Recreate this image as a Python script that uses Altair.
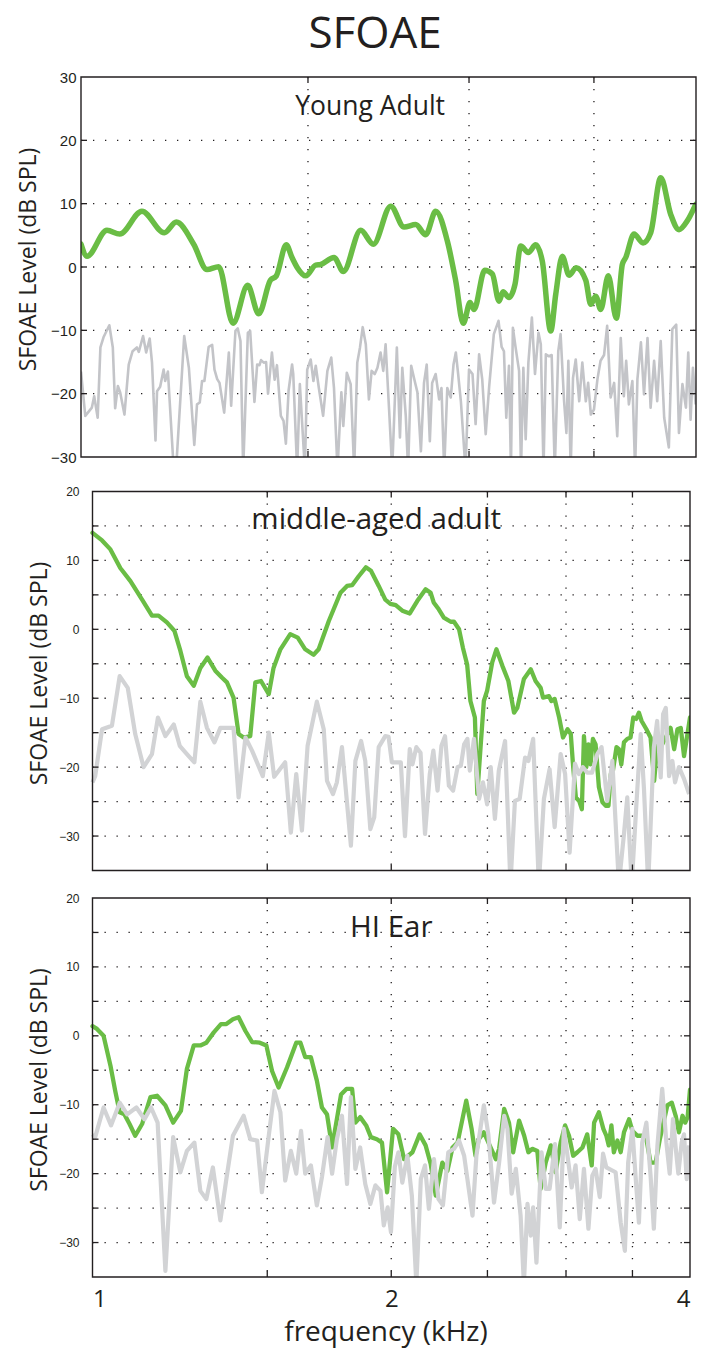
import altair as alt
import numpy as np
import pandas as pd

INK = "#231f20"
GREEN = "#6abd45"
NOISE_DARK = "#c3c4c8"
NOISE_LIGHT = "#d2d3d5"
TEXT_FONT = "Open Sans"
NUM_FONT = "Liberation Sans"

# Each series is a list of (frequency in octaves above 1 kHz, level in dB SPL).
young_sfoae = [
    (0.000, 3.6), (0.0155, 1.7), (0.067, 5.8), (0.0997, 5.2), (0.157, 8.8), (0.2147, 5.4),
    (0.2457, 7.1), (0.2904, 3.6), (0.3247, -0.4), (0.3548, 0.05), (0.3918, -8.9), (0.4296, -2.9),
    (0.458, -7.4), (0.488, -2.1), (0.5034, -1.4), (0.529, 3.5), (0.5438, 1.5), (0.5575, -0.1),
    (0.5791, -1.4), (0.6049, 0.3), (0.6178, 0.4), (0.6521, 1.5), (0.676, -0.7), (0.7209, 5.8),
    (0.7534, 3.6), (0.7982, 9.6), (0.8325, 6.3), (0.8626, 6.7), (0.8884, 5.1), (0.9142, 8.8),
    (0.9441, 4.1), (0.9657, -2.2), (0.9853, -8.9), (1.0026, -5.6), (1.0129, -6.7), (1.0405, -0.5),
    (1.0601, -1.1), (1.0773, -5.4), (1.0876, -3.9), (1.1031, -4.8), (1.1186, -2.7), (1.1332, 3.3),
    (1.1528, 2.3), (1.1719, 3.5), (1.1889, 0.9), (1.2106, -10.1), (1.2235, -4.3), (1.2405, 1.7),
    (1.2577, -1.3), (1.2765, -0.1), (1.3008, -2.1), (1.3137, -5.9), (1.3265, -4.6), (1.3394, -6.7),
    (1.359, -1.4), (1.3796, -8.1), (1.3951, 0.4), (1.4039, 1.5), (1.4253, 5.2), (1.4485, 3.8),
    (1.4683, 5.4), (1.4941, 14.1), (1.5198, 8.3), (1.5412, 5.9), (1.5626, 7.3), (1.5843, 9.9),
]

young_noise = [
    (0.000, -16.5), (0.011, -23.5), (0.028, -22.2), (0.034, -20.4), (0.043, -23.8), (0.050, -12.7),
    (0.058, -11.1), (0.073, -9.2), (0.082, -12.7), (0.088, -22.3), (0.095, -18.8), (0.101, -19.8),
    (0.112, -23.3), (0.123, -15.4), (0.133, -13.3), (0.144, -12.7), (0.149, -13.4), (0.160, -10.9),
    (0.168, -13.5), (0.177, -11.3), (0.183, -15.1), (0.192, -27.4), (0.196, -19.6), (0.204, -18.9),
    (0.213, -16.2), (0.217, -18.0), (0.224, -16.5), (0.239, -32.0), (0.245, -32.0), (0.266, -10.9),
    (0.278, -15.9), (0.292, -28.1), (0.299, -21.7), (0.306, -21.4), (0.312, -18.0), (0.318, -18.0),
    (0.329, -12.6), (0.338, -12.3), (0.344, -16.2), (0.351, -17.7), (0.357, -18.3), (0.369, -23.0),
    (0.381, -13.5), (0.387, -21.9), (0.398, -10.1), (0.404, -9.7), (0.411, -11.7), (0.418, -32.0),
    (0.430, -10.4), (0.436, -10.1), (0.447, -21.3), (0.454, -15.4), (0.460, -15.5), (0.464, -14.7),
    (0.471, -15.1), (0.477, -15.0), (0.482, -20.0), (0.492, -13.5), (0.499, -17.8), (0.505, -15.5),
    (0.515, -23.5), (0.522, -24.3), (0.528, -27.9), (0.535, -19.5), (0.544, -15.4), (0.547, -16.9),
    (0.557, -32.0), (0.564, -18.5), (0.577, -32.0), (0.583, -16.2), (0.592, -14.6), (0.599, -18.0),
    (0.605, -15.6), (0.613, -19.1), (0.624, -23.5), (0.635, -16.4), (0.645, -14.3), (0.652, -19.1),
    (0.661, -32.0), (0.671, -19.8), (0.676, -25.1), (0.685, -16.7), (0.695, -18.5), (0.704, -32.0),
    (0.712, -15.1), (0.719, -12.7), (0.726, -9.5), (0.734, -12.2), (0.742, -20.9), (0.749, -16.4),
    (0.757, -16.9), (0.764, -15.9), (0.772, -13.5), (0.779, -16.4), (0.785, -12.2), (0.794, -22.5),
    (0.802, -32.0), (0.814, -12.7), (0.822, -26.9), (0.828, -15.9), (0.837, -23.5), (0.843, -32.0),
    (0.851, -15.6), (0.860, -18.0), (0.867, -19.8), (0.876, -29.1), (0.884, -18.3), (0.891, -15.4),
    (0.899, -27.5), (0.905, -18.3), (0.914, -16.9), (0.923, -20.9), (0.929, -19.1), (0.936, -32.0),
    (0.944, -19.1), (0.953, -20.6), (0.960, -15.4), (0.966, -13.5), (0.972, -16.9), (0.979, -21.2),
    (0.991, -32.0), (1.000, -16.2), (1.009, -16.9), (1.017, -24.8), (1.026, -13.8), (1.034, -17.7),
    (1.043, -26.4), (1.052, -18.8), (1.064, -10.6), (1.076, -8.5), (1.084, -12.6), (1.090, -13.3),
    (1.096, -23.8), (1.103, -15.6), (1.108, -32.0), (1.113, -9.6), (1.120, -12.7), (1.129, -16.4),
    (1.134, -32.0), (1.140, -15.9), (1.146, -27.2), (1.153, -15.1), (1.162, -8.0), (1.170, -16.9),
    (1.179, -10.4), (1.185, -12.2), (1.192, -32.0), (1.198, -13.8), (1.206, -14.1), (1.213, -13.9),
    (1.221, -32.0), (1.230, -13.3), (1.236, -10.6), (1.245, -21.2), (1.251, -26.2), (1.256, -14.8),
    (1.262, -32.0), (1.268, -17.5), (1.275, -14.6), (1.284, -21.2), (1.292, -15.1), (1.301, -21.2),
    (1.307, -18.3), (1.314, -23.3), (1.322, -22.5), (1.331, -17.7), (1.339, -14.8), (1.348, -13.9),
    (1.356, -9.3), (1.365, -20.6), (1.374, -18.3), (1.382, -26.7), (1.391, -11.2), (1.399, -20.4),
    (1.405, -14.8), (1.412, -21.7), (1.421, -18.0), (1.428, -32.0), (1.434, -17.7), (1.443, -11.9),
    (1.451, -20.1), (1.460, -11.2), (1.468, -22.2), (1.477, -14.8), (1.485, -21.2), (1.494, -11.7),
    (1.503, -23.8), (1.515, -28.5), (1.524, -9.8), (1.534, -9.1), (1.541, -26.2), (1.550, -18.5),
    (1.559, -22.2), (1.565, -13.5), (1.571, -24.1), (1.577, -15.9), (1.584, -21.7),
]

middle_sfoae = [
    (0.000, 14.0), (0.032, 12.9), (0.060, 11.6), (0.093, 8.9), (0.127, 7.0), (0.166, 4.3),
    (0.199, 2.0), (0.221, 2.0), (0.249, 1.0), (0.274, -0.2), (0.294, -3.1), (0.316, -6.8),
    (0.339, -8.2), (0.361, -5.6), (0.385, -4.1), (0.411, -6.0), (0.433, -7.0), (0.450, -7.7),
    (0.472, -9.9), (0.489, -15.2), (0.506, -15.7), (0.528, -15.5), (0.545, -7.7), (0.564, -7.5),
    (0.590, -9.4), (0.606, -5.6), (0.629, -2.9), (0.662, -0.7), (0.687, -1.2), (0.712, -2.9),
    (0.740, -3.7), (0.757, -2.9), (0.791, 1.2), (0.830, 5.3), (0.852, 6.3), (0.869, 6.4),
    (0.891, 7.7), (0.915, 9.0), (0.932, 8.5), (0.958, 6.3), (0.980, 4.3), (0.997, 3.7),
    (1.015, 3.5), (1.037, 2.7), (1.062, 2.3), (1.087, 4.1), (1.115, 5.8), (1.132, 5.3),
    (1.142, 3.9), (1.159, 2.9), (1.176, 1.7), (1.199, 1.1), (1.210, 1.1), (1.227, 0.0),
    (1.240, -2.7), (1.254, -5.1), (1.265, -10.4), (1.280, -12.8), (1.288, -23.9), (1.299, -17.1),
    (1.310, -10.4), (1.321, -8.9), (1.338, -4.8), (1.352, -2.9), (1.372, -5.3), (1.392, -7.5),
    (1.411, -12.1), (1.422, -11.4), (1.444, -7.2), (1.467, -5.8), (1.483, -7.5), (1.500, -8.5),
    (1.508, -9.9), (1.528, -9.7), (1.536, -10.4), (1.547, -10.1), (1.562, -12.8), (1.575, -15.7),
    (1.590, -14.5), (1.601, -15.2), (1.609, -20.0), (1.618, -24.4), (1.629, -24.9), (1.638, -26.1),
    (1.645, -15.5), (1.653, -20.0), (1.660, -16.7), (1.667, -19.6), (1.675, -15.9), (1.684, -16.7),
    (1.695, -22.9), (1.707, -25.1), (1.718, -25.6), (1.727, -25.6), (1.735, -21.0), (1.742, -20.5),
    (1.754, -17.1), (1.762, -17.4), (1.770, -19.6), (1.779, -16.4), (1.790, -15.9), (1.801, -15.7),
    (1.810, -12.8), (1.820, -13.0), (1.829, -12.1), (1.838, -13.3), (1.854, -14.5), (1.868, -15.7),
    (1.880, -22.0), (1.891, -16.7), (1.902, -17.1), (1.935, -14.3), (1.947, -17.4), (1.958, -14.5),
    (1.969, -14.3), (1.980, -18.4), (2.000, -12.8),
]

middle_noise = [
    (0.000, -22.2), (0.009, -21.3), (0.032, -14.5), (0.065, -14.0), (0.091, -6.8), (0.118, -8.5),
    (0.143, -15.2), (0.171, -20.0), (0.199, -18.1), (0.219, -12.8), (0.244, -15.5), (0.272, -13.8),
    (0.292, -16.9), (0.316, -18.1), (0.341, -19.3), (0.361, -10.5), (0.383, -14.3), (0.408, -16.4),
    (0.428, -14.3), (0.472, -14.3), (0.489, -24.4), (0.512, -15.7), (0.534, -17.6), (0.570, -21.3),
    (0.590, -15.0), (0.608, -21.4), (0.645, -19.3), (0.664, -29.5), (0.682, -21.0), (0.701, -29.2),
    (0.720, -16.9), (0.751, -10.5), (0.774, -14.5), (0.785, -22.0), (0.805, -23.9), (0.818, -22.2),
    (0.835, -17.1), (0.865, -31.4), (0.880, -19.1), (0.899, -16.2), (0.913, -19.1), (0.930, -29.0),
    (0.943, -27.3), (0.958, -17.1), (0.980, -15.5), (0.991, -15.6), (1.002, -19.3), (1.015, -19.3),
    (1.032, -19.3), (1.046, -30.0), (1.062, -17.4), (1.071, -19.6), (1.084, -17.1), (1.098, -17.9),
    (1.113, -29.7), (1.129, -21.0), (1.141, -17.6), (1.155, -23.4), (1.168, -16.9), (1.180, -15.5),
    (1.193, -22.7), (1.207, -23.4), (1.222, -20.0), (1.233, -19.8), (1.244, -16.7), (1.255, -15.9),
    (1.263, -20.5), (1.277, -15.9), (1.294, -24.6), (1.307, -22.2), (1.321, -25.4), (1.333, -20.0),
    (1.347, -27.5), (1.360, -20.5), (1.381, -16.2), (1.399, -37.0), (1.414, -24.9), (1.430, -24.6),
    (1.448, -18.6), (1.459, -19.1), (1.475, -15.9), (1.494, -37.0), (1.511, -24.6), (1.530, -20.3),
    (1.547, -28.7), (1.567, -18.1), (1.582, -21.0), (1.597, -32.4), (1.615, -19.5), (1.628, -21.0),
    (1.641, -20.0), (1.656, -20.8), (1.672, -20.8), (1.690, -18.1), (1.704, -17.1), (1.723, -24.9),
    (1.740, -19.1), (1.762, -37.0), (1.779, -29.7), (1.790, -24.4), (1.805, -37.0), (1.820, -25.8),
    (1.835, -15.2), (1.846, -23.2), (1.860, -37.0), (1.879, -17.1), (1.890, -13.3), (1.902, -21.5),
    (1.910, -12.3), (1.919, -11.4), (1.930, -21.3), (1.941, -19.1), (1.950, -22.2), (1.963, -20.0),
    (1.980, -21.7), (1.997, -23.9),
]

hi_sfoae = [
    (0.000, 1.4), (0.015, 1.0), (0.037, 0.0), (0.060, -4.3), (0.076, -8.0), (0.091, -11.1),
    (0.107, -11.4), (0.124, -12.8), (0.143, -14.5), (0.166, -12.8), (0.194, -8.9), (0.216, -8.7),
    (0.244, -10.1), (0.270, -12.6), (0.296, -10.9), (0.316, -4.8), (0.339, -1.4), (0.361, -1.4),
    (0.381, -1.0), (0.406, 0.5), (0.430, 1.7), (0.448, 1.7), (0.470, 2.4), (0.489, 2.7),
    (0.512, 0.7), (0.534, -0.9), (0.560, -1.0), (0.582, -1.4), (0.601, -5.1), (0.623, -7.5),
    (0.651, -4.6), (0.682, -1.0), (0.696, -1.0), (0.712, -3.1), (0.731, -3.1), (0.751, -6.5),
    (0.768, -10.4), (0.785, -11.4), (0.802, -16.2), (0.832, -8.5), (0.850, -7.7), (0.869, -7.7),
    (0.880, -12.6), (0.896, -11.8), (0.916, -13.0), (0.932, -14.7), (0.952, -15.0), (0.969, -15.5),
    (0.986, -22.7), (1.006, -13.5), (1.024, -14.3), (1.043, -17.9), (1.071, -16.9), (1.095, -14.3),
    (1.115, -15.9), (1.132, -18.6), (1.149, -23.2), (1.171, -18.4), (1.188, -19.6), (1.205, -16.2),
    (1.222, -15.5), (1.251, -9.4), (1.269, -13.5), (1.282, -17.4), (1.293, -15.0), (1.310, -14.0),
    (1.350, -17.9), (1.361, -16.4), (1.378, -10.6), (1.394, -12.6), (1.408, -16.9), (1.428, -12.3),
    (1.445, -14.5), (1.459, -16.9), (1.472, -16.4), (1.489, -16.7), (1.500, -22.2), (1.517, -18.4),
    (1.534, -15.9), (1.550, -19.8), (1.567, -15.5), (1.582, -13.0), (1.595, -14.5), (1.609, -17.4),
    (1.623, -16.9), (1.640, -16.2), (1.656, -14.3), (1.671, -18.8), (1.679, -12.6), (1.695, -11.1),
    (1.710, -13.5), (1.720, -14.5), (1.728, -15.9), (1.737, -13.0), (1.745, -16.9), (1.757, -15.2),
    (1.768, -16.9), (1.779, -14.0), (1.796, -12.1), (1.807, -13.8), (1.824, -14.5), (1.852, -14.5),
    (1.868, -18.4), (1.885, -18.4), (1.899, -15.0), (1.924, -10.1), (1.939, -9.7), (1.952, -11.6),
    (1.963, -14.0), (1.975, -11.6), (1.984, -12.6), (1.992, -11.8), (2.000, -7.8),
]

hi_noise = [
    (0.000, -14.3), (0.009, -14.7), (0.037, -10.4), (0.062, -13.0), (0.091, -9.7), (0.116, -11.4),
    (0.147, -10.4), (0.174, -12.1), (0.196, -10.4), (0.218, -12.6), (0.244, -34.1), (0.270, -14.7),
    (0.294, -19.8), (0.316, -16.7), (0.341, -15.5), (0.361, -22.5), (0.381, -23.7), (0.403, -19.1),
    (0.428, -26.8), (0.448, -20.8), (0.470, -14.5), (0.506, -11.6), (0.528, -15.0), (0.551, -15.2),
    (0.567, -22.7), (0.590, -14.5), (0.609, -8.0), (0.629, -11.1), (0.645, -21.0), (0.664, -16.7),
    (0.682, -20.0), (0.698, -13.8), (0.712, -20.0), (0.731, -18.8), (0.751, -24.6), (0.768, -20.5),
    (0.787, -14.7), (0.802, -20.0), (0.818, -15.0), (0.835, -11.6), (0.852, -21.5), (0.865, -8.9),
    (0.880, -19.3), (0.896, -16.2), (0.913, -21.5), (0.930, -24.4), (0.947, -21.7), (0.964, -22.5),
    (0.975, -27.5), (0.988, -24.9), (0.999, -28.5), (1.012, -19.0), (1.024, -16.9), (1.037, -21.3),
    (1.054, -17.4), (1.069, -23.2), (1.084, -36.0), (1.099, -20.8), (1.113, -18.8), (1.126, -25.1),
    (1.143, -17.9), (1.158, -23.7), (1.173, -24.6), (1.191, -16.9), (1.210, -16.4), (1.227, -15.2),
    (1.244, -17.4), (1.272, -26.1), (1.285, -17.4), (1.310, -10.1), (1.325, -14.3), (1.344, -24.2),
    (1.361, -18.4), (1.378, -11.6), (1.389, -13.5), (1.403, -22.9), (1.417, -19.3), (1.433, -26.1),
    (1.444, -36.0), (1.456, -24.4), (1.467, -29.0), (1.475, -24.9), (1.486, -32.9), (1.503, -16.9),
    (1.517, -22.2), (1.530, -22.2), (1.548, -15.7), (1.564, -27.8), (1.578, -13.5), (1.604, -22.0),
    (1.617, -18.8), (1.631, -26.6), (1.645, -19.3), (1.660, -28.0), (1.673, -20.3), (1.684, -19.3),
    (1.698, -23.4), (1.709, -17.1), (1.720, -19.1), (1.751, -19.8), (1.768, -27.1), (1.782, -31.2),
    (1.793, -18.4), (1.807, -13.5), (1.818, -20.5), (1.829, -27.1), (1.840, -15.5), (1.854, -12.6),
    (1.868, -20.3), (1.879, -28.0), (1.891, -15.9), (1.907, -7.7), (1.921, -15.5), (1.932, -20.0),
    (1.943, -12.1), (1.952, -16.2), (1.961, -20.0), (1.972, -15.5), (1.980, -14.3), (1.989, -20.8),
    (1.997, -15.9),
]

YOUNG_Y_LABELS = [30, 20, 10, 0, -10, -20, -30]
YOUNG_Y_GRID = [20, 10, 0, -10, -20]
YOUNG_X_GRID = [1.5, 2.0, 2.5]
OLDER_Y_LABELS = [20, 10, 0, -10, -20, -30]
OLDER_Y_GRID = [15, 10, 5, 0, -5, -10, -15, -20, -25, -30]
OLDER_X_GRID = [1.5, 2.0, 2.5, 3.0, 3.5]
X_LABELS = [1, 2, 4]


def to_frame(points):
    octs, levels = zip(*points)
    return pd.DataFrame({"khz": np.power(2.0, np.array(octs)), "db": list(levels)})


def panel(sfoae, noise, label, label_pos, *, x_lo, x_edge, x_hi, y_lo, y_hi,
          y_labels, y_grid, x_grid, width, height, sfoae_width, noise_width,
          noise_color, smooth, num_size, label_pad, title_pad, caption_size,
          x_axis):
    xs = alt.Scale(type="log", domain=[x_lo, x_hi], nice=False)
    ys = alt.Scale(domain=[y_lo, y_hi], nice=False, zero=False)
    y_axis = alt.Axis(
        values=y_labels, ticks=False, domain=False, grid=False,
        labelFont=NUM_FONT, labelFontSize=num_size, labelColor=INK,
        labelPadding=label_pad, title="SFOAE Level (dB SPL)", titleFont=TEXT_FONT,
        titleFontSize=23, titleFontWeight="normal", titleColor=INK,
        titlePadding=title_pad, titleY=height / 2 - 8,
    )
    # every layer carries the same axis definitions so the merged axes survive
    X = lambda f: alt.X(f, scale=xs, axis=x_axis)
    Y = lambda f: alt.Y(f, scale=ys, axis=y_axis)
    dotted = dict(color=INK, strokeWidth=1.3, strokeDash=[1.3, 10.7])

    rows_y = pd.DataFrame({"db": y_grid, "x0": x_edge, "x1": x_hi})
    rows_x = pd.DataFrame({"khz": x_grid, "y0": y_hi, "y1": y_lo})
    box = pd.DataFrame({"x0": [x_edge], "x1": [x_hi], "y0": [y_hi], "y1": [y_lo]})

    h_grid = alt.Chart(rows_y).mark_rule(**dotted).encode(
        y=Y("db:Q"), x=X("x0:Q"), x2="x1:Q")
    v_grid = alt.Chart(rows_x).mark_rule(**dotted).encode(
        x=X("khz:Q"), y=Y("y0:Q"), y2="y1:Q")

    sfoae_line = alt.Chart(to_frame(sfoae)).mark_line(
        color=GREEN, strokeWidth=sfoae_width, clip=True,
        interpolate="monotone" if smooth else "linear",
        strokeJoin="round", strokeCap="round",
    ).encode(x=X("khz:Q"), y=Y("db:Q"))
    noise_line = alt.Chart(to_frame(noise)).mark_line(
        color=noise_color, strokeWidth=noise_width, clip=True, strokeJoin="round",
    ).encode(x=X("khz:Q"), y=Y("db:Q"))

    frame = alt.Chart(box).mark_rect(
        fillOpacity=0, stroke=INK, strokeWidth=1.4,
    ).encode(x=X("x0:Q"), x2="x1:Q", y=Y("y0:Q"), y2="y1:Q")

    tick_style = dict(color=INK, strokeWidth=1.3)
    left_ticks = alt.Chart(rows_y).mark_rule(x2Offset=6, **tick_style).encode(
        y=Y("db:Q"), x=X("x0:Q"), x2="x0:Q")
    right_ticks = alt.Chart(rows_y).mark_rule(x2Offset=-6, **tick_style).encode(
        y=Y("db:Q"), x=X("x1:Q"), x2="x1:Q")
    top_ticks = alt.Chart(rows_x).mark_rule(y2Offset=6, **tick_style).encode(
        x=X("khz:Q"), y=Y("y0:Q"), y2="y0:Q")
    bottom_ticks = alt.Chart(rows_x).mark_rule(y2Offset=-6, **tick_style).encode(
        x=X("khz:Q"), y=Y("y1:Q"), y2="y1:Q")

    caption = alt.Chart(
        pd.DataFrame({"khz": [label_pos[0]], "db": [label_pos[1]], "text": [label]})
    ).mark_text(
        font=TEXT_FONT, fontSize=caption_size, color=INK, align="center",
        baseline="middle",
    ).encode(x=X("khz:Q"), y=Y("db:Q"), text="text:N")

    return alt.layer(
        h_grid, v_grid, sfoae_line, noise_line, frame,
        left_ticks, right_ticks, top_ticks, bottom_ticks, caption,
    ).properties(width=width, height=height)


# the two lower panels reserve a narrow strip left of 1 kHz
older_lo = 2 ** (-11.5 / 298.75)

young = panel(
    young_sfoae, young_noise, "Young Adult", (1.676, 25.3),
    x_lo=1.0, x_edge=1.0, x_hi=3.0, y_lo=-30, y_hi=30,
    y_labels=YOUNG_Y_LABELS, y_grid=YOUNG_Y_GRID, x_grid=YOUNG_X_GRID,
    width=615, height=380, sfoae_width=5.5, noise_width=2.6,
    noise_color=NOISE_DARK, smooth=True, num_size=15, label_pad=5,
    title_pad=10, caption_size=26.5, x_axis=None,
)

middle = panel(
    middle_sfoae, middle_noise, "middle-aged adult", (1.931, 15.8),
    x_lo=older_lo, x_edge=1.0, x_hi=4.0, y_lo=-35, y_hi=20,
    y_labels=OLDER_Y_LABELS, y_grid=OLDER_Y_GRID, x_grid=OLDER_X_GRID,
    width=609, height=379, sfoae_width=4.3, noise_width=4.2,
    noise_color=NOISE_LIGHT, smooth=False, num_size=12, label_pad=2,
    title_pad=7, caption_size=29.5, x_axis=None,
)

hi_axis = alt.Axis(
    values=X_LABELS, format="~g", ticks=False, domain=False, grid=False,
    labelFont=TEXT_FONT, labelFontSize=24, labelColor=INK, labelFlush=16,
    labelPadding=10, title="frequency (kHz)", titleFont=TEXT_FONT,
    titleFontSize=28, titleFontWeight="normal", titleColor=INK, titlePadding=7,
)

hi_ear = panel(
    hi_sfoae, hi_noise, "HI Ear", (2.0, 15.6),
    x_lo=older_lo, x_edge=1.0, x_hi=4.0, y_lo=-35, y_hi=20,
    y_labels=OLDER_Y_LABELS, y_grid=OLDER_Y_GRID, x_grid=OLDER_X_GRID,
    width=609, height=379, sfoae_width=4.3, noise_width=4.2,
    noise_color=NOISE_LIGHT, smooth=False, num_size=12, label_pad=2,
    title_pad=7, caption_size=29.5, x_axis=hi_axis,
)

chart = alt.vconcat(young, middle, hi_ear, spacing=20.5).properties(
    title=alt.TitleParams(
        "SFOAE", font=TEXT_FONT, fontSize=44, fontWeight="normal",
        color=INK, anchor="middle", offset=13, dx=18,
    ),
    padding={"left": 17, "top": 13, "right": 0, "bottom": 2},
).configure_view(strokeWidth=0)

chart.save("out.html", embed_options={"renderer": "svg", "actions": False})
